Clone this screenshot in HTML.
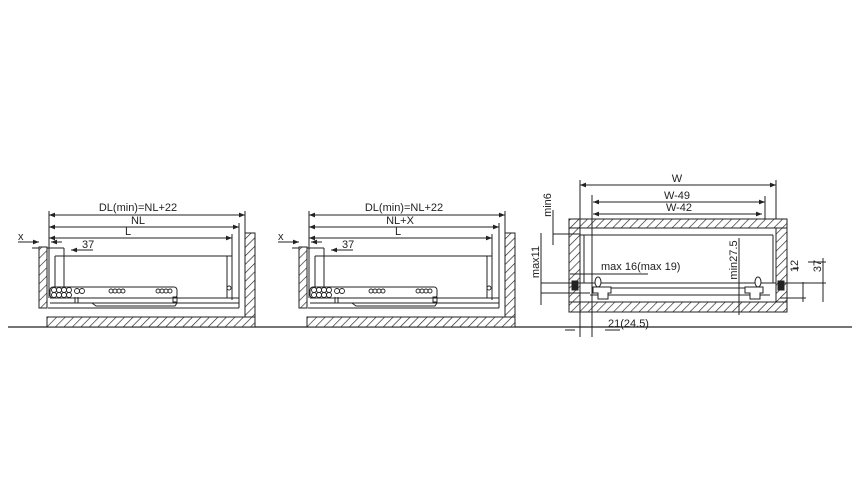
<!DOCTYPE html>
<html><head><meta charset="utf-8"><style>
html,body{margin:0;padding:0;background:#fff}
svg{display:block}
text{font-family:"Liberation Sans",sans-serif;font-size:11px;fill:#222}
</style></head><body>
<svg width="860" height="500" viewBox="0 0 860 500" xmlns="http://www.w3.org/2000/svg">
<defs>
<pattern id="h" patternUnits="userSpaceOnUse" width="6" height="6" patternTransform="rotate(45)">
<rect width="6" height="6" fill="#fff"/><line x1="0" y1="0" x2="0" y2="6" stroke="#222" stroke-width="1.3"/>
</pattern>
<marker id="a" viewBox="0 0 10 10" refX="10" refY="5" markerWidth="8" markerHeight="6" orient="auto-start-reverse">
<path d="M0,1 L10,5 L0,9 z" fill="#222"/></marker>
<g id="dr" stroke="#222" fill="none" stroke-width="1">
<rect x="39" y="247" width="8" height="61" fill="url(#h)"/>
<rect x="47" y="317" width="208" height="10" fill="url(#h)"/>
<rect x="245" y="233" width="10" height="84" fill="url(#h)"/>
<line x1="49" y1="211" x2="49" y2="298"/>
<line x1="245" y1="211" x2="245" y2="233"/>
<line x1="239" y1="223" x2="239" y2="308"/>
<line x1="232" y1="234" x2="232" y2="300"/>
<line x1="47" y1="248" x2="64" y2="248"/>
<line x1="64" y1="248" x2="64" y2="288"/>
<line x1="55" y1="256" x2="232" y2="256"/>
<line x1="55" y1="256" x2="55" y2="288"/>
<line x1="227" y1="256" x2="227" y2="298"/>
<rect x="50" y="287" width="127" height="11" rx="3"/>
<line x1="50" y1="298" x2="239" y2="298"/>
<line x1="50" y1="303" x2="239" y2="303"/>
<line x1="48" y1="308" x2="239" y2="308"/>
<path d="M92,303 L96,306 L175,306 L177,303"/>
<g stroke-width="0.9">
<circle cx="54" cy="290" r="2.5"/><circle cx="59" cy="290" r="2.5"/><circle cx="64" cy="290" r="2.5"/><circle cx="69" cy="290" r="2.5"/>
<circle cx="54" cy="295" r="2.5"/><circle cx="59" cy="295" r="2.5"/><circle cx="64" cy="295" r="2.5"/><circle cx="69" cy="295" r="2.5"/>
<circle cx="77" cy="291" r="2.5"/><circle cx="82" cy="291" r="2.5"/>
<circle cx="111" cy="291" r="2"/><circle cx="115" cy="291" r="2"/><circle cx="119" cy="291" r="2"/><circle cx="123" cy="291" r="2"/>
<circle cx="158" cy="291" r="2"/><circle cx="162" cy="291" r="2"/><circle cx="166" cy="291" r="2"/><circle cx="170" cy="291" r="2"/>
<circle cx="229" cy="288" r="2"/>
</g>
<line x1="75" y1="297" x2="75" y2="303"/><line x1="78" y1="297" x2="78" y2="303"/>
<rect x="173" y="297" width="4" height="5"/>
<line x1="49" y1="215" x2="245" y2="215" marker-start="url(#a)" marker-end="url(#a)"/>
<line x1="49" y1="227" x2="239" y2="227" marker-start="url(#a)" marker-end="url(#a)"/>
<line x1="49" y1="238" x2="232" y2="238" marker-start="url(#a)" marker-end="url(#a)"/>
<line x1="18" y1="242" x2="39" y2="242" marker-end="url(#a)"/>
<line x1="62" y1="242" x2="51" y2="242" marker-end="url(#a)"/>
<line x1="32" y1="248" x2="39" y2="248"/>
<line x1="93" y1="250" x2="71" y2="250" marker-end="url(#a)"/>
</g>
</defs>
<line x1="8" y1="327" x2="852" y2="327" stroke="#222" stroke-width="1.2"/>
<use href="#dr"/>
<text x="138" y="211" text-anchor="middle">DL(min)=NL+22</text>
<text x="138" y="224" text-anchor="middle">NL</text>
<text x="128" y="235" text-anchor="middle">L</text>
<text x="18" y="240">x</text>
<text x="82" y="248">37</text>
<use href="#dr" transform="translate(260,0)"/>
<text x="404" y="211" text-anchor="middle">DL(min)=NL+22</text>
<text x="400" y="224" text-anchor="middle">NL+X</text>
<text x="398" y="235" text-anchor="middle">L</text>
<text x="278" y="240">x</text>
<text x="342" y="248">37</text>
<g stroke="#222" fill="none" stroke-width="1">
<rect x="569" y="219" width="218" height="9" fill="url(#h)"/>
<rect x="569" y="302" width="218" height="10" fill="url(#h)"/>
<rect x="569" y="228" width="11" height="74" fill="url(#h)"/>
<rect x="776" y="228" width="11" height="74" fill="url(#h)"/>
<line x1="580" y1="235" x2="773" y2="235"/>
<line x1="584" y1="235" x2="584" y2="283"/>
<line x1="773" y1="235" x2="773" y2="283"/>
<line x1="580" y1="283" x2="776" y2="283"/>
<line x1="596" y1="288" x2="760" y2="288"/>
<line x1="590" y1="295" x2="770" y2="295"/>
<path d="M593,287 h18 v6 h-3 v6 h-10 v-6 h-5 z" fill="#fff"/>
<ellipse cx="598" cy="282" rx="3" ry="5" fill="#fff"/>
<path d="M745,287 h18 v6 h-3 v6 h-10 v-6 h-5 z" fill="#fff"/>
<ellipse cx="758" cy="282" rx="3" ry="5" fill="#fff"/>
<rect x="572" y="281" width="6" height="9" fill="#222"/>
<rect x="778" y="281" width="6" height="9" fill="#222"/>
<line x1="580" y1="180" x2="580" y2="337"/>
<line x1="592" y1="195" x2="592" y2="337"/>
<line x1="776" y1="180" x2="776" y2="219"/>
<line x1="765" y1="196" x2="765" y2="219"/>
<line x1="580" y1="185" x2="776" y2="185" marker-start="url(#a)" marker-end="url(#a)"/>
<line x1="593" y1="202" x2="765" y2="202" marker-start="url(#a)" marker-end="url(#a)"/>
<line x1="593" y1="214" x2="762" y2="214" marker-start="url(#a)" marker-end="url(#a)"/>
<line x1="553" y1="234" x2="580" y2="234"/>
<line x1="553" y1="210" x2="553" y2="245"/>
<line x1="541" y1="233" x2="541" y2="305"/>
<line x1="541" y1="283" x2="590" y2="283"/>
<line x1="541" y1="293" x2="590" y2="293"/>
<line x1="570" y1="274" x2="648" y2="274"/>
<line x1="739" y1="238" x2="739" y2="315"/>
<line x1="780" y1="283" x2="826" y2="283"/>
<line x1="780" y1="298" x2="806" y2="298"/>
<line x1="803" y1="282" x2="803" y2="302"/>
<line x1="823" y1="258" x2="823" y2="302"/>
<line x1="793" y1="268" x2="799" y2="268"/>
<line x1="808" y1="262" x2="826" y2="262"/>
<line x1="605" y1="330" x2="620" y2="330"/>
<line x1="565" y1="330" x2="575" y2="330"/>
</g>
<text x="677" y="182" text-anchor="middle">W</text>
<text x="677" y="199" text-anchor="middle">W-49</text>
<text x="679" y="211" text-anchor="middle">W-42</text>
<text x="601" y="270">max 16(max 19)</text>
<text x="608" y="327">21(24.5)</text>
<text transform="translate(551,205) rotate(-90)" text-anchor="middle">min6</text>
<text transform="translate(539,262) rotate(-90)" text-anchor="middle">max11</text>
<text transform="translate(737,260) rotate(-90)" text-anchor="middle">min27.5</text>
<text transform="translate(798,266) rotate(-90)" text-anchor="middle">12</text>
<text transform="translate(821,266) rotate(-90)" text-anchor="middle">37</text>
</svg>
</body></html>
